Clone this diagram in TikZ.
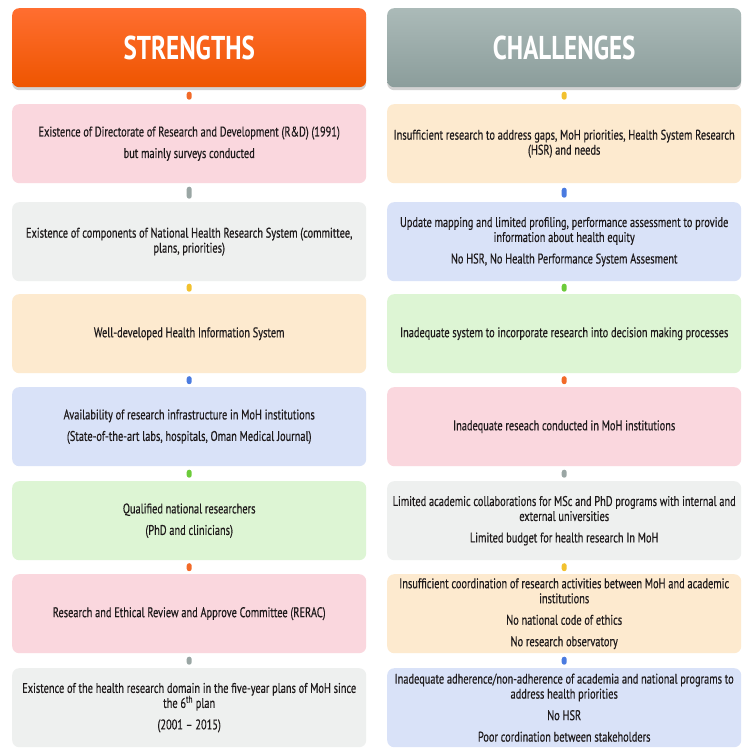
\documentclass[tikz,border=0pt]{standalone}
\usepackage{fontspec}
\setmainfont[FakeStretch=0.74,FakeBold=0.4]{PT Sans}
\newfontfamily\hdrfont[FakeStretch=0.76]{PT Sans}
\usetikzlibrary{calc,shadows}
\definecolor{pinkbox}{HTML}{FAD7DE}
\definecolor{greybox}{HTML}{EEF0EF}
\definecolor{beigebox}{HTML}{FDEACF}
\definecolor{bluebox}{HTML}{D9E2F8}
\definecolor{greenbox}{HTML}{DDF5D4}
\definecolor{orangedot}{HTML}{F26A28}
\definecolor{greydot}{HTML}{9AA6A4}
\definecolor{yellowdot}{HTML}{F2C12E}
\definecolor{bluedot}{HTML}{4A7BE0}
\definecolor{greendot}{HTML}{6CCB3A}
\definecolor{textc}{HTML}{1E1A1B}
\definecolor{orangetop}{HTML}{FF6E30}
\definecolor{orangebot}{HTML}{EE5500}
\definecolor{greytop}{HTML}{ABBAB8}
\definecolor{greybot}{HTML}{8B9D9B}
\tikzset{
  card/.style={rectangle, rounded corners=7pt, minimum width=354pt, minimum height=79pt,
    anchor=north west, align=center, inner sep=2pt, text=textc,
    font=\fontsize{14}{15}\selectfont},
  hdr/.style={rectangle, rounded corners=7pt, minimum width=354pt, minimum height=79pt,
    anchor=north west, text=white, font=\hdrfont\bfseries\fontsize{33}{33}\selectfont,
    drop shadow={shadow xshift=0pt, shadow yshift=-3pt, opacity=0.35}},
  pip/.style={rectangle, rounded corners=2.5pt, minimum width=5pt, minimum height=8pt,
    inner sep=0pt}
}
\begin{document}
\begin{tikzpicture}[x=1pt,y=-1pt]
\useasboundingbox[fill=white] (0,0) rectangle (747,751);
% headers
\node[hdr, top color=orangetop, bottom color=orangebot] (LH) at (12,8) {STRENGTHS};
\node[hdr, top color=greytop, bottom color=greybot] (RH) at (387,8) {CHALLENGES};
% strengths
\node[card, fill=pinkbox] (L1) at (12,104) {Existence of Directorate of Research and Development (R\&D) (1991)\\[6.5pt] but mainly surveys conducted};
\node[card, fill=greybox] (L2) at (12,202) {Existence of components of National Health Research System (committee,\\ plans, priorities)};
\node[card, fill=beigebox] (L3) at (12,294) {Well-developed Health Information System};
\node[card, fill=bluebox] (L4) at (12,387) {Availability of research infrastructure in MoH institutions\\[6.5pt] (State-of-the-art labs, hospitals, Oman Medical Journal)};
\node[card, fill=greenbox] (L5) at (12,481) {Qualified national researchers\\[6.5pt] (PhD and clinicians)};
\node[card, fill=pinkbox] (L6) at (12,574) {Research and Ethical Review and Approve Committee (RERAC)};
\node[card, fill=greybox] (L7) at (12,668) {Existence of the health research domain in the five-year plans of MoH since\\ the 6\textsuperscript{th} plan\\[6.5pt] (2001 -- 2015)};
% challenges
\node[card, fill=beigebox] (R1) at (387,104) {Insufficient research to address gaps, MoH priorities, Health System Research\\ (HSR) and needs};
\node[card, fill=bluebox] (R2) at (387,202) {Update mapping and limited profiling, performance assessment to provide\\ information about health equity\\[6.5pt] No HSR, No Health Performance System Assesment};
\node[card, fill=greenbox] (R3) at (387,294) {Inadequate system to incorporate research into decision making processes};
\node[card, fill=pinkbox] (R4) at (387,387) {Inadequate reseach conducted in MoH institutions};
\node[card, fill=greybox] (R5) at (387,481) {Limited academic collaborations for MSc and PhD programs with internal and\\ external universities\\[6.5pt] Limited budget for health research In MoH};
\node[card, fill=beigebox] (R6) at (387,574) {Insufficient coordination of research activities between MoH and academic\\ institutions\\[6.5pt] No national code of ethics\\[6.5pt] No research observatory};
\node[card, fill=bluebox] (R7) at (387,668) {Inadequate adherence/non-adherence of academia and national programs to\\ address health priorities\\[6.5pt] No HSR\\[6.5pt] Poor cordination between stakeholders};
% connector pips
\node[pip, fill=orangedot] (pl0) at ($(LH.south)!0.5!(L1.north)$) {};
\node[pip, fill=greydot, minimum height=12pt] (pl1) at ($(L1.south)!0.5!(L2.north)$) {};
\node[pip, fill=yellowdot] (pl2) at ($(L2.south)!0.5!(L3.north)$) {};
\node[pip, fill=bluedot] (pl3) at ($(L3.south)!0.5!(L4.north)$) {};
\node[pip, fill=greendot] (pl4) at ($(L4.south)!0.5!(L5.north)$) {};
\node[pip, fill=orangedot] (pl5) at ($(L5.south)!0.5!(L6.north)$) {};
\node[pip, fill=greydot] (pl6) at ($(L6.south)!0.5!(L7.north)$) {};
\node[pip, fill=yellowdot] (pr0) at ($(RH.south)!0.5!(R1.north)$) {};
\node[pip, fill=bluedot, minimum height=10pt] (pr1) at ($(R1.south)!0.5!(R2.north)$) {};
\node[pip, fill=greendot] (pr2) at ($(R2.south)!0.5!(R3.north)$) {};
\node[pip, fill=orangedot] (pr3) at ($(R3.south)!0.5!(R4.north)$) {};
\node[pip, fill=greydot] (pr4) at ($(R4.south)!0.5!(R5.north)$) {};
\node[pip, fill=yellowdot] (pr5) at ($(R5.south)!0.5!(R6.north)$) {};
\node[pip, fill=bluedot] (pr6) at ($(R6.south)!0.5!(R7.north)$) {};
\end{tikzpicture}
\end{document}
